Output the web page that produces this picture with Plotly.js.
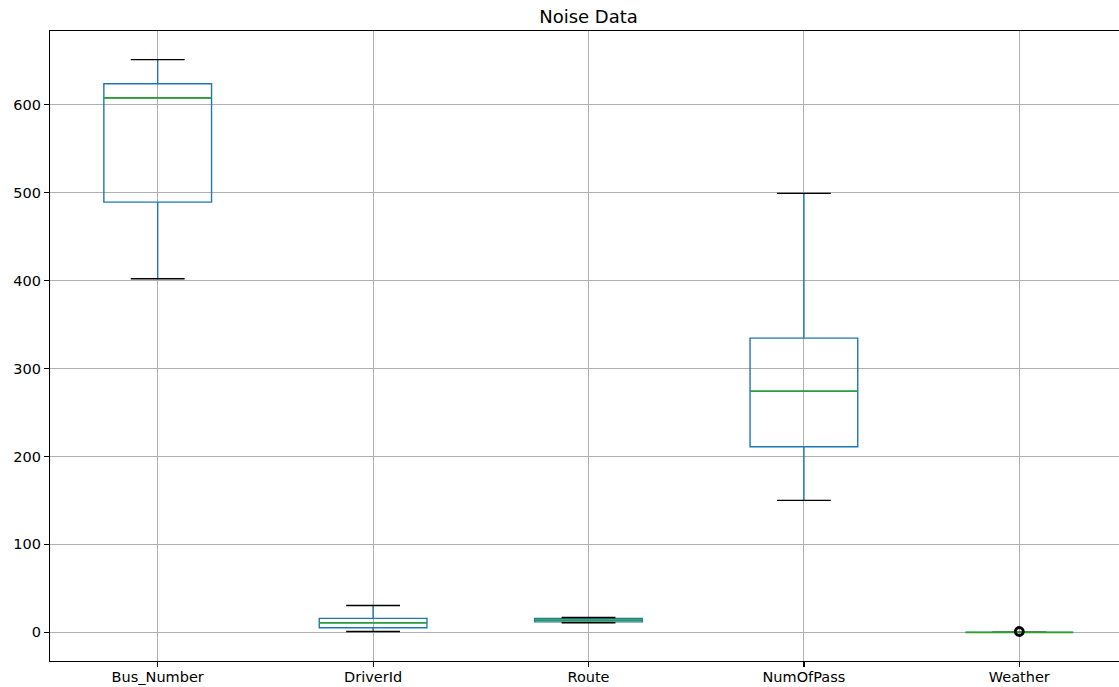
<!DOCTYPE html>
<html>
<head>
<meta charset="utf-8">
<script src="https://cdn.plot.ly/plotly-3.0.1.min.js"></script>
<style>
html, body { margin: 0; padding: 0; overflow: hidden; background: #fff; }
#chart { width: 1140px; height: 687px; }
</style>
</head>
<body>
<div id="chart"></div>
<script>
// Data
const categories = ["Bus_Number", "DriverId", "Route", "NumOfPass", "Weather"];
const lowerWhisker = [402, 1, 11, 150, 0];
const q1Values     = [489, 5.3, 12, 211, 0];
const medianValues = [607.5, 11, 14, 274, 0];
const q3Values     = [623.5, 16, 16, 334.5, 0];
const upperWhisker = [651, 30.5, 17, 499, 0];
const outlierCategoryIndex = [4];
const outlierValues = [1];

const positions = categories.map((_, i) => i);
const boxHalf = 0.25;   // box width 0.5
const capHalf = 0.125;  // cap width 0.25

const blue = "#1f77b4";
const green = "#2ca02c";

const boxTrace = {
  type: "box",
  x: positions,
  q1: q1Values,
  median: medianValues,
  q3: q3Values,
  lowerfence: lowerWhisker,
  upperfence: upperWhisker,
  width: 0.5,
  whiskerwidth: 0,
  boxpoints: false,
  line: { color: blue, width: 1.4 },
  fillcolor: "rgba(0,0,0,0)",
  hoverinfo: "skip",
  showlegend: false
};

function segments(half, values) {
  const xs = [], ys = [];
  positions.forEach((p, i) => {
    xs.push(p - half, p + half, null);
    ys.push(values[i], values[i], null);
  });
  return { xs, ys };
}

const capsLow = segments(capHalf, lowerWhisker);
const capsHigh = segments(capHalf, upperWhisker);
const meds = segments(boxHalf, medianValues);

const capTrace = {
  type: "scatter", mode: "lines",
  x: capsLow.xs.concat(capsHigh.xs),
  y: capsLow.ys.concat(capsHigh.ys),
  line: { color: "#000000", width: 1.4 },
  hoverinfo: "skip", showlegend: false
};

const medianTrace = {
  type: "scatter", mode: "lines",
  x: meds.xs, y: meds.ys,
  line: { color: green, width: 1.6 },
  hoverinfo: "skip", showlegend: false
};

const outlierTrace = {
  type: "scatter", mode: "markers",
  x: outlierCategoryIndex, y: outlierValues,
  marker: { symbol: "circle-open", size: 8, color: "#000000", line: { width: 2.8, color: "#000000" } },
  hoverinfo: "skip", showlegend: false
};

const layout = {
  width: 1140,
  height: 687,
  margin: { l: 50, r: 13, t: 31, b: 26 },
  paper_bgcolor: "#ffffff",
  plot_bgcolor: "#ffffff",
  font: { family: "DejaVu Sans, sans-serif", size: 15, color: "#000000" },
  title: {
    text: "Noise Data",
    font: { family: "DejaVu Sans, sans-serif", size: 18, color: "#000000" },
    x: 0.5, xref: "paper", xanchor: "center",
    y: 1, yref: "paper", yanchor: "bottom", pad: { b: 8 }
  },
  xaxis: {
    range: [-0.5, 4.5],
    tickmode: "array",
    tickvals: positions,
    ticktext: categories,
    showgrid: true, gridcolor: "#b0b0b0", gridwidth: 1,
    zeroline: false,
    showline: true, linecolor: "#000000", linewidth: 1.2, mirror: true,
    ticks: "outside", ticklen: 5, tickcolor: "#000000", tickwidth: 1.2,
    ticklabelstandoff: -3,
    tickfont: { family: "DejaVu Sans, sans-serif", size: 14.5, color: "#000000" },
    fixedrange: true
  },
  yaxis: {
    range: [-32.5, 683.5],
    tickmode: "array",
    tickvals: [0, 100, 200, 300, 400, 500, 600],
    ticktext: ["0", "100", "200", "300", "400", "500", "600"],
    showgrid: true, gridcolor: "#b0b0b0", gridwidth: 1,
    zeroline: false,
    showline: true, linecolor: "#000000", linewidth: 1.2, mirror: true,
    ticks: "outside", ticklen: 5, tickcolor: "#000000", tickwidth: 1.2,
    tickfont: { family: "DejaVu Sans, sans-serif", size: 14.5, color: "#000000" },
    fixedrange: true
  },
  showlegend: false
};

Plotly.newPlot("chart", [boxTrace, capTrace, medianTrace, outlierTrace], layout, { displayModeBar: false, staticPlot: true });
</script>
</body>
</html>
